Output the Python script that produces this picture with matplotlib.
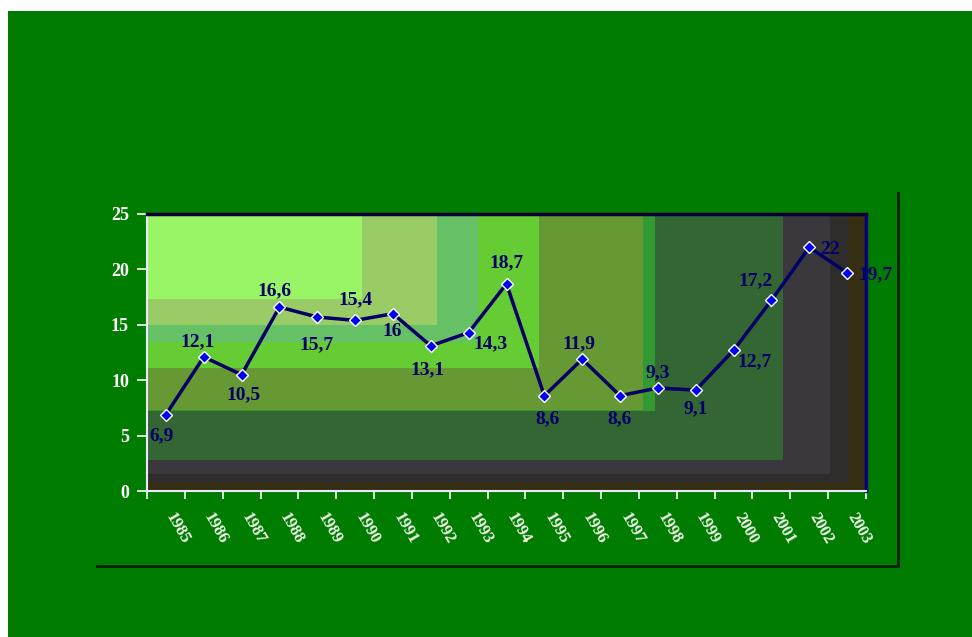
import matplotlib
matplotlib.use('Agg')
import matplotlib.pyplot as plt
import matplotlib.transforms as mtransforms
from matplotlib.patches import Rectangle
from matplotlib.lines import Line2D

years = ['1985', '1986', '1987', '1988', '1989', '1990', '1991', '1992', '1993', '1994',
         '1995', '1996', '1997', '1998', '1999', '2000', '2001', '2002', '2003']
values = [6.9, 12.1, 10.5, 16.6, 15.7, 15.4, 16, 13.1, 14.3, 18.7,
          8.6, 11.9, 8.6, 9.3, 9.1, 12.7, 17.2, 22, 19.7]

# label offsets in pixels (dx, dy), image-style: positive dy goes down
label_offsets = [(-4, 21), (-6, -15), (2, 20), (-5, -16), (-1, 28), (0, -21), (-1, 18),
                 (-3, 24), (22, 11), (0, -21), (3, 23), (-3, -15), (0, 23), (0, -15),
                 (0, 19), (21, 11), (-16, -20), (21, 2), (28, 2)]

# background bands of the plot area: (right edge, bottom edge) in axes fraction
bands = [(1.0, 0.0, '#352e12'), (0.975, 0.03, '#2f2d2c'), (0.95, 0.06, '#3a383c'),
         (0.885, 0.112, '#336633'), (0.707, 0.289, '#339933'), (0.69, 0.292, '#669933'),
         (0.545, 0.444, '#66cc33'), (0.46, 0.538, '#66c066'), (0.403, 0.6, '#99cc66'),
         (0.299, 0.693, '#99f566')]

green = '#007c00'
navy = '#000066'
serif = ['Liberation Serif', 'DejaVu Serif']

fig = plt.figure(figsize=(9.72, 6.37), dpi=100, facecolor='white')
fig.patches.append(Rectangle((8 / 972, 0), 1, 1 - 11 / 637, transform=fig.transFigure,
                             facecolor=green, edgecolor='none', zorder=-10))

# outer frame shadow lines
fig.lines.append(Line2D([898 / 972, 898 / 972], [1 - 193 / 637, 1 - 566 / 637],
                        transform=fig.transFigure, color='#0a200a', lw=2))
fig.lines.append(Line2D([97 / 972, 898 / 972], [1 - 566 / 637, 1 - 566 / 637],
                        transform=fig.transFigure, color='#0a200a', lw=2))

ax = fig.add_axes([147 / 972, 1 - 491 / 637, 719 / 972, 277 / 637])
ax.set_facecolor('#352e12')

for rx, by, c in bands:
    ax.add_patch(Rectangle((0, by), rx, 1 - by, transform=ax.transAxes,
                           facecolor=c, edgecolor='none', zorder=0))

x = list(range(len(years)))
ax.plot(x, values, color=navy, lw=2.5, zorder=3)
ax.plot(x, values, linestyle='none', marker='D', markersize=6.5,
        markerfacecolor='#0000ee', markeredgecolor='white', markeredgewidth=1, zorder=4)

for xi, v, (dx, dy) in zip(x, values, label_offsets):
    ax.annotate(f'{v:g}'.replace('.', ','), (xi, v), xytext=(dx, -dy),
                textcoords='offset pixels', ha='center', va='center',
                fontsize=14, fontweight='bold', family=serif, color=navy, zorder=5)

ax.set_xlim(-0.5, len(years) - 0.5)
ax.set_ylim(0, 25)
ax.set_yticks([0, 5, 10, 15, 20, 25])
ax.set_xticks([i + 0.5 for i in range(-1, len(years))], minor=False)
ax.set_xticklabels([])
ax.set_xticks(x, minor=True)
ax.set_xticklabels(years, minor=True)

ax.tick_params(axis='x', which='major', length=6, color='white', width=1.2)
ax.tick_params(axis='x', which='minor', length=0, pad=14, labelsize=12,
               labelcolor='#f4fff0', labelrotation=-60)
ax.tick_params(axis='y', length=7, color='white', width=1.2, pad=6,
               labelsize=13, labelcolor='white')

offset = mtransforms.ScaledTranslation(0.12, 0, fig.dpi_scale_trans)
for lab in ax.get_xticklabels(minor=True):
    lab.set_family(serif)
    lab.set_fontweight('bold')
    lab.set_ha('center')
    lab.set_transform(lab.get_transform() + offset)
for lab in ax.get_yticklabels():
    lab.set_family(serif)
    lab.set_fontweight('bold')

ax.spines['left'].set_color('#e8e8ff')
ax.spines['bottom'].set_color('#e8e8ff')
ax.spines['left'].set_linewidth(1.5)
ax.spines['bottom'].set_linewidth(1.5)
ax.spines['top'].set_color('#000033')
ax.spines['top'].set_linewidth(2.5)
ax.spines['right'].set_color('#000080')
ax.spines['right'].set_linewidth(2.5)

fig.savefig('out.png', dpi=100, facecolor=fig.get_facecolor())
